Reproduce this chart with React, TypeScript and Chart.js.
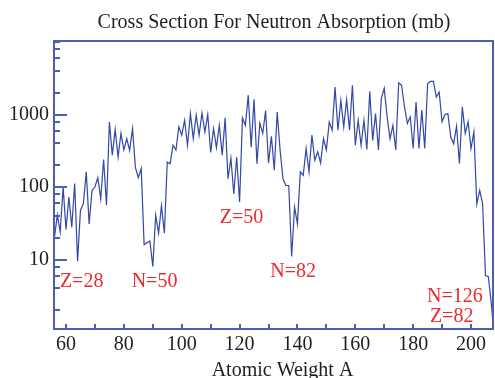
import React, { useEffect, useRef } from 'react';
import { Chart, registerables } from 'chart.js';

Chart.register(...registerables);

const atomicWeights = [
  56, 57, 58, 59, 60, 61, 62, 63, 64, 65, 66, 67, 68, 69, 70, 71, 72, 73, 74, 75,
  76, 77, 78, 79, 80, 81, 82, 83, 84, 85, 86, 87, 88, 89, 90, 91, 92, 93, 94, 95,
  96, 97, 98, 99, 100, 101, 102, 103, 104, 105, 106, 107, 108, 109, 110, 111, 112, 113, 114, 115,
  116, 117, 118, 119, 120, 121, 122, 123, 124, 125, 126, 127, 128, 129, 130, 131, 132, 133, 134, 135,
  136, 137, 138, 139, 140, 141, 142, 143, 144, 145, 146, 147, 148, 149, 150, 151, 152, 153, 154, 155,
  156, 157, 158, 159, 160, 161, 162, 163, 164, 165, 166, 167, 168, 169, 170, 171, 172, 173, 174, 175,
  176, 177, 178, 179, 180, 181, 182, 183, 184, 185, 186, 187, 188, 189, 190, 191, 192, 193, 194, 195,
  196, 197, 198, 199, 200, 201, 202, 203, 204, 205, 206, 207, 208,
];

const crossSections = [
  20, 41, 24, 100, 26, 73, 28, 112, 9.5, 48, 59, 162, 31, 90, 100, 135, 69, 240, 56, 790,
  275, 620, 260, 550, 325, 465, 320, 640, 185, 135, 180, 16, 17, 18, 8, 41, 23, 55, 23, 222,
  210, 377, 324, 676, 520, 830, 377, 1030, 465, 980, 520, 1050, 575, 1000, 300, 640, 350, 710, 275, 900,
  130, 250, 80, 260, 62, 900, 710, 1850, 355, 1620, 210, 760, 550, 1130, 215, 500, 170, 1080, 324, 130,
  105, 105, 11, 53, 31, 162, 145, 340, 162, 520, 234, 305, 215, 465, 324, 790, 610, 2400, 610, 1570,
  676, 1600, 610, 2530, 377, 830, 377, 830, 330, 2100, 440, 1030, 324, 1660, 2300, 930, 465, 710, 325, 2750,
  2540, 1280, 755, 930, 340, 1490, 340, 1150, 340, 2650, 2870, 2870, 1740, 2040, 795, 1000, 1030, 490, 395, 690,
  210, 1280, 550, 795, 340, 575, 58, 90, 59, 6, 5.8, 2.5, 0.9,
];

const xTickLabels = [60, 80, 100, 120, 140, 160, 180, 200];
const xMinorTicks = [70, 90, 110, 130, 150, 170, 190];
const yTickLabels = [10, 100, 1000];
const yMinorTicks = [2, 4, 6, 8, 20, 40, 60, 80, 200, 400, 600, 800, 2000, 4000, 6000, 8000, 10000];

const annotationTexts = ['Z=28', 'N=50', 'Z=50', 'N=82', 'N=126', 'Z=82'];
const annotationAtX = [65.4, 90.6, 120.7, 138.5, 194.4, 193.3];
const annotationAtY = [4.18, 4.18, 31.9, 5.75, 2.59, 1.37];

const chartTitle = 'Cross Section For Neutron Absorption (mb)';
const xAxisTitle = 'Atomic Weight A';

const FRAME = '#4d5fb0';
const LINE = '#3347a6';
const RED = '#ea2a2e';
const TEXT = '#1e1e1e';
const FONT = "'Liberation Serif', 'Times New Roman', serif";

const decorPlugin = {
  id: 'decor',
  afterDatasetsDraw(chart: any) {
    const { ctx, chartArea: ca, scales } = chart;
    const xs = scales.x;
    const ys = scales.y;
    ctx.save();
    // frame
    ctx.strokeStyle = FRAME;
    ctx.lineWidth = 2;
    ctx.strokeRect(ca.left, ca.top, ca.right - ca.left, ca.bottom - ca.top);
    // inward ticks
    ctx.beginPath();
    yTickLabels.forEach((v) => {
      const p = Math.round(ys.getPixelForValue(v));
      ctx.moveTo(ca.left, p);
      ctx.lineTo(ca.left + 13, p);
    });
    yMinorTicks.forEach((v) => {
      const p = Math.round(ys.getPixelForValue(v));
      if (p < ca.top || p > ca.bottom) return;
      ctx.moveTo(ca.left, p);
      ctx.lineTo(ca.left + 6, p);
    });
    [...xTickLabels, ...xMinorTicks].forEach((v) => {
      const p = Math.round(xs.getPixelForValue(v));
      ctx.moveTo(p, ca.bottom);
      ctx.lineTo(p, ca.bottom - 5);
    });
    ctx.stroke();

    // annotations
    ctx.fillStyle = RED;
    ctx.font = `20px ${FONT}`;
    ctx.textAlign = 'center';
    ctx.textBaseline = 'alphabetic';
    annotationTexts.forEach((t, i) => {
      ctx.fillText(t, xs.getPixelForValue(annotationAtX[i]), ys.getPixelForValue(annotationAtY[i]));
    });

    // titles
    ctx.fillStyle = TEXT;
    ctx.fillText(chartTitle, (ca.left + ca.right) / 2 + 0.5, 28);
    ctx.fillText(xAxisTitle, (ca.left + ca.right) / 2 + 9, 376);
    ctx.restore();
  },
};

export default function App() {
  const canvasRef = useRef<HTMLCanvasElement | null>(null);

  useEffect(() => {
    const canvas = canvasRef.current;
    if (!canvas) return;
    const chart = new Chart(canvas, {
      type: 'line',
      data: {
        datasets: [
          {
            data: atomicWeights.map((a, i) => ({ x: a, y: crossSections[i] })),
            borderColor: LINE,
            borderWidth: 1.2,
            pointRadius: 0,
            tension: 0,
            fill: false,
          },
        ],
      },
      options: {
        animation: false,
        responsive: true,
        maintainAspectRatio: false,
        layout: { padding: { top: 41, right: 2, left: 0, bottom: 0 } },
        plugins: {
          legend: { display: false },
          tooltip: { enabled: false },
          title: { display: false },
        },
        scales: {
          x: {
            type: 'linear',
            min: 55.85,
            max: 207.6,
            grid: { display: false, drawTicks: false },
            border: { display: false },
            afterBuildTicks: (scale: any) => {
              scale.ticks = xTickLabels.map((v) => ({ value: v }));
            },
            afterFit: (scale: any) => {
              scale.height = 49;
            },
            ticks: {
              autoSkip: false,
              maxRotation: 0,
              padding: 3.5,
              color: TEXT,
              font: { family: FONT, size: 20 },
              callback: (v: any) => String(v),
            },
          },
          y: {
            type: 'logarithmic',
            min: 1.1,
            max: 10340,
            grid: { display: false, drawTicks: false },
            border: { display: false },
            afterBuildTicks: (scale: any) => {
              scale.ticks = yTickLabels.map((v) => ({ value: v }));
            },
            afterFit: (scale: any) => {
              scale.width = 54;
            },
            ticks: {
              autoSkip: false,
              padding: 5,
              color: TEXT,
              font: { family: FONT, size: 20 },
              callback: (v: any) => String(v),
            },
          },
        },
      },
      plugins: [decorPlugin],
    });
    return () => chart.destroy();
  }, []);

  return (
    <div style={{ position: 'absolute', left: 0, top: 0, width: 495, height: 378, background: '#fff' }}>
      <canvas ref={canvasRef} />
    </div>
  );
}
